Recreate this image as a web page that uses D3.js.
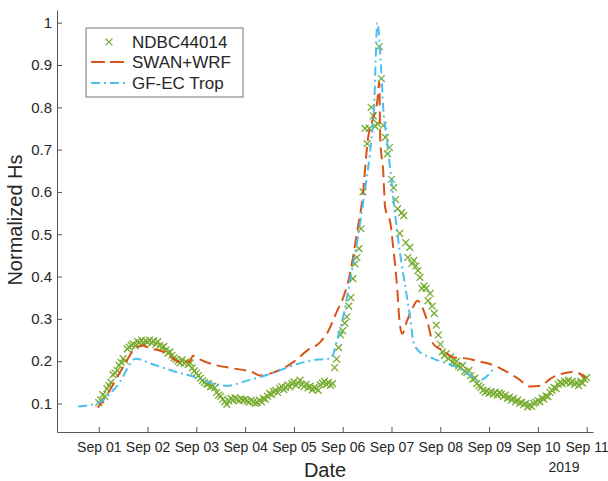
<!DOCTYPE html>
<html>
<head>
  <title>Normalized Hs</title>
  <script type="text/javascript" src="https://d3js.org/d3.v7.min.js"></script>
  <style>
    body { margin: 0; background: #fff; }
    text { font-family: "Liberation Sans", Arial, Helvetica, sans-serif; fill: #262626; }
  </style>
</head>
<body>
  <div id="container"></div>
  <script type="text/javascript">
    // observation: hourly values starting Sep 01 00:00 UTC
    var obsStart = Date.UTC(2019, 8, 1);
    var obsHs = [
      .102,.108,.121,.117,.135,.142,.150,.168,.172,.178,.190,.197,.206,.201,.229,.233,.238,.241,.236,.247,.244,.250,.241,.248,
      .245,.250,.243,.248,.240,.246,.237,.232,.235,.226,.219,.222,.214,.208,.205,.200,.196,.203,.195,.199,.192,.196,.184,.177,
      .172,.166,.160,.154,.150,.146,.147,.140,.141,.137,.126,.120,.117,.110,.104,.098,.106,.112,.108,.113,.110,.106,.111,.108,
      .110,.106,.103,.108,.104,.100,.102,.108,.104,.112,.110,.117,.124,.121,.128,.131,.126,.136,.140,.133,.138,.144,.139,.147,
      .151,.143,.148,.155,.145,.140,.146,.137,.141,.132,.138,.135,.131,.144,.148,.152,.145,.150,.143,.147,.185,.205,.232,.262,
      .272,.290,.305,.330,.350,.395,.430,.445,.466,.513,.600,.750,.714,.750,.800,.780,.755,.762,.943,.868,.757,.729,.690,.705,
      .630,.610,.582,.560,.502,.551,.544,.480,.445,.469,.431,.438,.425,.414,.398,.372,.378,.372,.343,.360,.330,.313,.285,.262,
      .240,.222,.213,.218,.206,.210,.198,.195,.200,.188,.185,.190,.176,.173,.178,.166,.157,.160,.147,.142,.138,.131,.126,.130,
      .124,.128,.122,.126,.120,.125,.122,.116,.120,.112,.115,.108,.112,.104,.108,.100,.103,.097,.100,.092,.096,.093,.100,.103,
      .107,.104,.113,.110,.118,.116,.126,.131,.138,.135,.145,.150,.147,.153,.150,.155,.148,.152,.145,.150,.142,.152,.148,.157,
      .161
    ];

    // models: time in days after Sep 01 00:00
    var swanDay = [-0.02,0.16,0.37,0.57,0.7,0.9,1.05,1.25,1.4,1.52,1.7,1.87,1.93,2.07,2.42,2.75,3.17,3.3,3.57,3.98,4.27,4.54,4.7,4.89,5.01,5.15,5.3,5.4,5.52,5.61,5.71,5.75,5.77,5.83,5.87,5.98,6.02,6.12,6.16,6.22,6.32,6.45,6.53,6.73,6.86,7.06,7.27,7.56,7.76,7.97,8.23,8.58,8.85,9.06,9.26,9.61,9.73,9.98];
    var swanHs  = [0.09,0.119,0.161,0.2,0.225,0.237,0.23,0.225,0.218,0.206,0.197,0.2,0.213,0.204,0.19,0.183,0.173,0.166,0.173,0.197,0.225,0.245,0.27,0.32,0.35,0.407,0.509,0.58,0.728,0.769,0.816,0.86,0.72,0.65,0.563,0.525,0.485,0.367,0.3,0.265,0.296,0.33,0.343,0.296,0.24,0.225,0.209,0.206,0.2,0.195,0.183,0.16,0.14,0.142,0.159,0.173,0.175,0.161];

    var gfDay = [-0.42,-0.15,0.05,0.2,0.43,0.6,0.75,1.05,1.6,1.98,2.34,2.63,3.04,3.57,3.98,4.5,4.75,4.9,5.0,5.15,5.3,5.45,5.585,5.64,5.71,5.79,5.83,5.91,6.14,6.39,6.45,6.55,6.86,7.35,7.56,7.76,8.03,8.09];
    var gfHs  = [0.093,0.097,0.105,0.12,0.15,0.185,0.206,0.195,0.174,0.162,0.147,0.142,0.154,0.172,0.19,0.204,0.206,0.256,0.3,0.39,0.485,0.6,0.72,0.792,1.0,0.887,0.8,0.72,0.485,0.296,0.245,0.225,0.206,0.185,0.171,0.154,0.173,0.183];

    var yTicks = [0.1,0.2,0.3,0.4,0.5,0.6,0.7,0.8,0.9,1];
    var seriesNames = ['NDBC44014', 'SWAN+WRF', 'GF-EC Trop'];
    var colours = ['#77AC30', '#D95319', '#4DBEEE'];

    var width = 608, height = 481;
    var plotLeft = 57, plotRight = 593, plotTop = 10, plotBottom = 432;
    var dayMs = 864e5;

    var svg = d3.select('#container').append('svg')
      .attr('width', width)
      .attr('height', height);

    var x = d3.scaleUtc()
      .domain([new Date(obsStart - 0.856*dayMs), new Date(obsStart + 10.13*dayMs)])
      .range([plotLeft, plotRight]);
    var y = d3.scaleLinear()
      .domain([0.0326, 1.03])
      .range([plotBottom, plotTop]);

    var dayToDate = d => new Date(obsStart + d*dayMs);

    // axes (ticks inside, no box)
    var xAxis = svg.append('g')
      .attr('transform', `translate(0,${plotBottom})`)
      .call(d3.axisBottom(x)
        .ticks(d3.utcDay.every(1))
        .tickFormat(d3.utcFormat('%b %d'))
        .tickSizeInner(-5).tickSizeOuter(0).tickPadding(10));
    xAxis.selectAll('text').style('font-size', '14px');

    var yAxis = svg.append('g')
      .attr('transform', `translate(${plotLeft},0)`)
      .call(d3.axisLeft(y)
        .tickValues(yTicks)
        .tickFormat(d => d === 1 ? '1' : d.toFixed(1))
        .tickSizeInner(-5).tickSizeOuter(0).tickPadding(5));
    yAxis.selectAll('text').style('font-size', '15px');

    [xAxis, yAxis].forEach(function(a) {
      a.select('.domain').attr('stroke', '#555');
      a.selectAll('.tick line').attr('stroke', '#555');
      a.selectAll('text').attr('fill', '#262626');
    });

    svg.append('text')
      .attr('x', 564).attr('y', 472)
      .attr('text-anchor', 'middle')
      .style('font-size', '14px')
      .text('2019');

    svg.append('text')
      .attr('x', (plotLeft + plotRight)/2).attr('y', 477)
      .attr('text-anchor', 'middle')
      .style('font-size', '20px')
      .text('Date');

    svg.append('text')
      .attr('transform', 'translate(22,220) rotate(-90)')
      .attr('text-anchor', 'middle')
      .style('font-size', '20px')
      .text('Normalized Hs');

    // observations
    var cross = 'M-3.4,-3.4L3.4,3.4M-3.4,3.4L3.4,-3.4';
    svg.append('g').selectAll('path')
      .data(obsHs)
      .enter()
      .append('path')
        .attr('d', cross)
        .attr('transform', (d, i) => `translate(${x(new Date(obsStart + i*36e5))},${y(d)})`)
        .attr('stroke', colours[0])
        .attr('stroke-width', 1.3)
        .attr('fill', 'none');

    var line = d3.line()
      .x(d => x(dayToDate(d[0])))
      .y(d => y(d[1]))
      .curve(d3.curveMonotoneX);

    svg.append('path')
      .attr('d', line(d3.zip(swanDay, swanHs)))
      .attr('fill', 'none')
      .attr('stroke', colours[1])
      .attr('stroke-width', 2)
      .attr('stroke-dasharray', '12,6');

    svg.append('path')
      .attr('d', line(d3.zip(gfDay, gfHs)))
      .attr('fill', 'none')
      .attr('stroke', colours[2])
      .attr('stroke-width', 2)
      .attr('stroke-dasharray', '9,4,2,4');

    // legend
    var lg = svg.append('g');
    lg.append('rect')
      .attr('x', 86).attr('y', 28)
      .attr('width', 157).attr('height', 69)
      .attr('fill', '#fff')
      .attr('stroke', '#777')
      .attr('stroke-width', 1);

    var rowY = [42, 62, 83];
    seriesNames.forEach(function(name, i) {
      if (i === 0) {
        lg.append('path')
          .attr('d', cross)
          .attr('transform', `translate(109,${rowY[i]})`)
          .attr('stroke', colours[0])
          .attr('stroke-width', 1.3)
          .attr('fill', 'none');
      } else {
        lg.append('line')
          .attr('x1', 91).attr('x2', 125)
          .attr('y1', rowY[i]).attr('y2', rowY[i])
          .attr('stroke', colours[i])
          .attr('stroke-width', 2)
          .attr('stroke-dasharray', i === 1 ? '14,5' : '9,4,2,4');
      }
      lg.append('text')
        .attr('x', 132).attr('y', rowY[i] + 6)
        .style('font-size', '17px')
        .text(name);
    });
  </script>
</body>
</html>
